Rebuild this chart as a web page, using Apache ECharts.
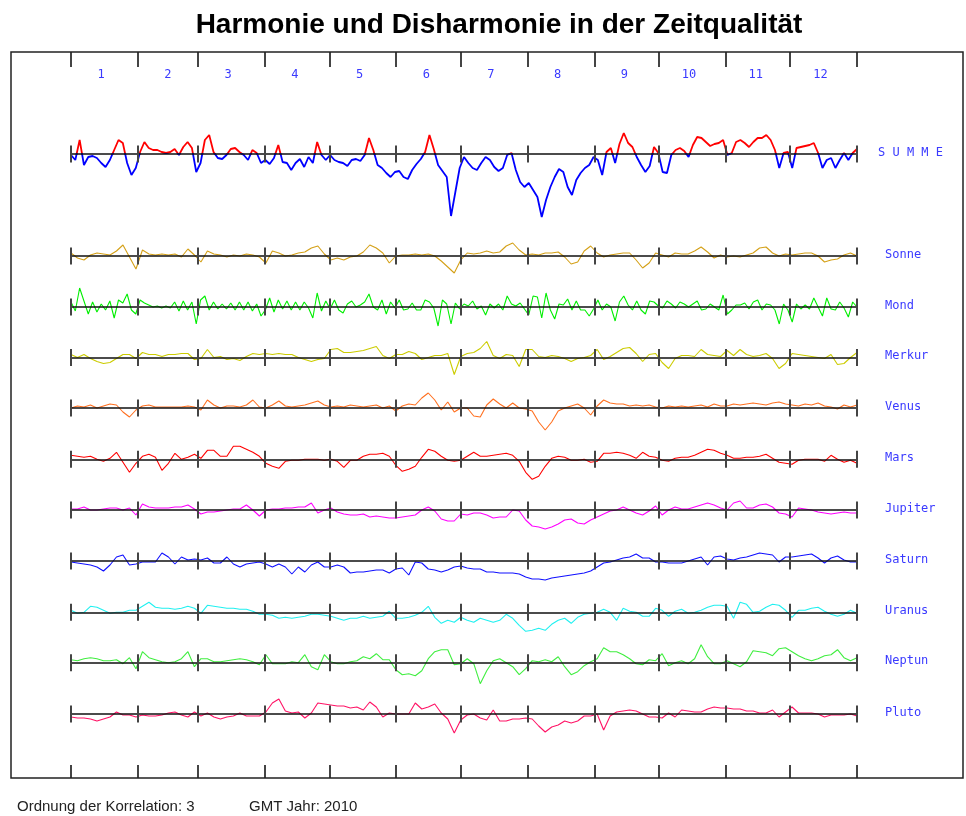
<!DOCTYPE html>
<html><head><meta charset="utf-8">
<script src="https://cdn.jsdelivr.net/npm/echarts@6/dist/echarts.min.js"></script>
<style>html,body{margin:0;padding:0;background:#fff}#c{width:966px;height:816px}</style>
</head><body><div id="c"></div>
<script>
// ---------------- DATA (pixel-like deviation units, + = harmony, - = disharmony) ----------------
const monthLabels = ['1','2','3','4','5','6','7','8','9','10','11','12'];
const monthLengths = [31,28,31,30,31,30,31,31,30,31,30,31];
const rowNames = ['S U M M E','Sonne','Mond','Merkur','Venus','Mars','Jupiter','Saturn','Uranus','Neptun','Pluto'];
const footerLeft = 'Ordnung der Korrelation: 3';
const footerRight = 'GMT Jahr: 2010';
const chartTitle = 'Harmonie und Disharmonie in der Zeitqualität';

// samples spread evenly over the year
const summe = [
 -1,-6,14,-11,-3,-2,-4,-9,-13,-6,4,14,11,-9,-21,-14,2,12,6,4,4,2,1,2,5,-1,7,12,6,-18,-9,14,19,2,-4,-5,-1,5,6,2,-1,-6,4,1,-9,-6,-10,-4,9,-8,-9,-16,-9,-5,-13,-3,-9,12,-1,-6,-1,
 -6,-8,-9,-12,-6,-5,-7,-1,16,4,-11,-14,-19,-23,-18,-17,-23,-25,-16,-10,-5,2,19,5,-11,-17,-23,-62,-38,-14,-3,-9,-14,-16,-9,-3,-6,-13,-17,-14,-1,1,-16,-28,-33,-29,-36,-43,-63,-46,-33,-23,-15,-18,-33,-41,-26,-19,-14,-11,-3,-6,-21,2,6,-9,10,21,11,7,-3,
 -11,-18,-12,7,1,-18,-19,-1,4,6,3,-3,9,17,16,12,8,10,11,14,-1,1,12,14,11,7,12,16,16,19,14,4,-14,1,2,-14,6,7,8,9,11,1,-14,-6,-4,-14,-6,1,-6,1,5
];
const sonne = [
 3,-2,-4,1,3,2,1,5,11,-1,-13,6,2,1,2,1,2,-1,7,1,-6,5,2,1,-1,1,0,2,1,-1,-7,5,3,0,1,3,4,8,10,2,-4,
 -2,-4,-1,0,4,11,8,3,-7,0,1,1,2,1,2,0,-5,-11,-17,-4,3,2,3,5,3,4,10,13,6,1,2,1,3,3,4,-1,-8,-6,5,10,3,-1,1,2,3,3,-4,-12,
 -7,3,1,-1,3,2,2,5,9,4,-2,1,-1,0,-1,1,3,8,9,3,0,2,1,2,3,3,0,-6,-4,-3,1,3,0
];
const mond = [
 5,-4,19,6,-7,5,-5,3,-3,6,-11,7,4,13,-3,-7,7,4,2,0,1,-1,1,-1,5,-4,6,-3,5,-17,7,11,-3,5,-2,3,-2,4,-3,5,-3,5,-4,3,-9,-3,9,-5,7,-2,6,-3,5,-3,5,-1,-11,14,-4,6,-2,
 7,-3,-6,3,6,0,2,5,13,0,-3,7,-7,5,-1,7,-3,-2,4,-3,-3,7,5,-1,-19,7,3,-17,4,-2,3,1,6,-2,1,-8,3,-1,3,-3,11,3,1,4,-2,-8,11,10,-11,14,-3,-12,3,2,8,-3,6,-3,-3,-9,-2,7,-3,3,0,-14,5,11,2,-3,6,-3,-7,6,
 5,1,-1,6,3,-1,5,3,0,3,6,-3,-2,3,0,-3,12,-7,-3,2,2,4,-2,5,7,-3,3,2,-3,-17,3,-3,-15,3,-2,2,-2,9,0,-9,9,-2,-3,5,-1,-10,5,0
];
const merkur = [
 3,0,3,-1,-4,-6,-5,-1,3,3,-1,5,3,3,1,3,3,4,4,-2,-1,8,0,1,-2,-1,-3,1,4,3,4,3,4,3,3,0,-2,-4,-2,-1,8,
 9,5,5,6,7,9,11,2,-1,3,3,6,4,-2,0,2,2,4,-17,1,4,5,9,16,2,-1,3,2,-9,8,8,1,0,2,1,-1,-4,-1,0,2,8,-2,1,5,9,10,4,-4,
 3,4,-5,-11,-1,2,2,1,8,3,2,1,7,2,8,3,1,2,4,-1,-11,-6,4,3,2,1,0,-1,3,-7,-6,0,5
];
const venus = [
 0,2,1,3,0,2,4,3,-4,-9,-2,2,3,1,1,1,1,1,2,1,-2,8,3,0,2,2,1,3,8,1,0,3,7,2,1,2,3,5,7,3,1,
 2,1,3,2,1,2,3,0,2,-3,2,4,3,10,15,8,-2,6,-4,0,0,-8,-9,3,9,4,0,5,0,-1,-3,-14,-22,-14,-3,0,2,4,0,-7,2,8,5,4,4,2,3,2,
 3,1,0,2,1,2,1,2,3,1,4,2,2,4,3,4,5,4,3,5,6,4,3,2,4,3,5,2,1,-1,3,1,3
];
const mars = [
 4,3,2,3,0,-2,1,7,-3,-13,-4,3,5,2,-11,-4,6,0,2,5,1,9,9,3,3,13,13,10,7,3,-4,-7,-9,-2,-1,-1,0,0,0,-1,0,
 -2,-8,-1,-1,3,5,5,6,3,-6,-12,-10,-7,2,10,8,3,-1,-2,-1,3,7,3,3,4,5,6,4,-2,-13,-20,-17,-7,1,3,2,-1,-1,0,-3,-2,6,6,7,6,4,1,7,
 3,2,-1,-2,1,2,2,4,7,10,9,6,4,1,1,2,2,3,5,1,-3,-4,-5,-1,0,0,0,-2,4,0,-3,-1,-4
];
const jupiter = [
 1,1,3,0,0,1,2,2,0,2,-5,6,3,2,2,2,3,3,5,1,-4,-2,-2,-1,0,1,1,5,0,-6,0,1,1,2,2,3,3,7,-3,0,2,
 -2,-4,-5,-5,-4,-7,-6,-7,-8,-8,-7,-6,-5,0,3,-1,-9,-11,-11,-4,-5,-3,-3,-5,-8,-7,-7,0,-1,-10,-16,-17,-19,-17,-14,-10,-9,-13,-14,-10,-7,-4,-1,0,3,0,-3,-5,
 -1,4,-5,0,3,1,1,3,5,7,5,2,0,7,9,2,2,5,6,3,-3,-4,-7,2,1,0,-2,-3,-4,-3,-2,-3,-3
];
const saturn = [
 -1,-2,-3,-4,-6,-10,-4,4,6,-4,-3,-1,-1,-1,8,4,-3,4,1,2,1,3,-2,-2,4,-3,-6,-3,-2,-1,-3,-6,-3,-6,-13,-6,-11,-4,-1,-6,-6,
 -4,-6,-12,-11,-11,-10,-9,-9,-12,-8,-7,-14,-1,-2,-8,-9,-11,-9,-6,-5,-7,-8,-8,-11,-11,-12,-12,-12,-13,-16,-18,-18,-19,-17,-16,-15,-14,-13,-12,-10,-6,-2,-1,1,3,4,7,3,
 3,-1,-1,-2,-2,-2,0,2,4,-4,4,5,2,1,3,4,6,8,7,6,-1,4,4,5,6,7,3,-2,3,5,1,-1,-1
];
const uranus = [
 2,-1,0,6,5,2,-1,0,0,2,2,6,10,5,4,4,3,4,6,4,-1,7,6,5,4,4,3,3,1,-2,-2,-3,-6,-5,-6,-5,-4,-2,-2,-3,-4,
 -6,-8,-6,-6,-4,-6,-5,-4,1,-6,-6,-5,-3,0,6,-5,-11,-8,-10,-5,-8,-10,-6,-8,-10,-8,-2,-6,-13,-19,-18,-16,-18,-12,-8,-6,-11,-5,-2,-1,0,3,0,-8,4,1,0,-4,
 -4,4,2,-4,1,3,-1,0,2,5,7,7,6,-6,10,8,0,1,5,8,7,2,-5,2,2,4,5,1,-2,-4,-2,2,-1
];
const neptun = [
 3,2,4,5,4,2,2,3,-1,5,-6,11,5,3,1,0,1,4,11,-4,4,4,1,1,2,3,4,3,1,-2,8,-1,-1,-1,1,0,8,-4,-7,8,1,
 -1,-1,1,2,6,4,9,3,3,-7,-12,-11,-13,-8,4,11,13,13,-2,-1,4,-1,-21,-8,2,4,0,-4,-12,-6,2,1,3,1,6,-4,-12,-9,-3,1,4,15,11,11,8,4,-1,-2,
 3,2,9,-3,0,2,-1,4,18,6,-1,-1,2,-1,-4,1,12,11,10,7,14,15,11,7,4,2,4,7,8,13,5,2,5
];
const pluto = [
 -3,-4,-4,-5,-7,-5,-3,2,-1,-1,-3,-1,-2,-2,-1,1,2,-1,-3,2,-2,1,-3,-5,-3,-2,1,-2,-2,-2,2,11,15,3,1,2,-4,1,11,10,9,
 8,8,6,7,4,12,7,-3,1,0,0,0,11,5,7,10,1,-5,-19,-6,-1,0,-4,-6,4,-7,-7,-5,-5,-4,-5,-12,-18,-13,-11,-7,-9,-7,-2,-2,0,-16,-2,2,3,4,3,0,
 -3,-3,-4,1,-3,4,3,2,2,5,7,6,6,5,5,3,3,1,1,4,-3,2,7,1,1,1,0,-3,-1,-1,-1,0,-2
];

// ---------------- LAYOUT / STYLE ----------------
const W = 966, X0 = 71, X1 = 857;
const rowData   = [summe, sonne, mond, merkur, venus, mars, jupiter, saturn, uranus, neptun, pluto];
const rowColors = ['#ff0000', '#d4a017', '#00ee00', '#cccc00', '#ff7020', '#ff0000', '#ff00ff', '#1010ff', '#20f0f0', '#40ee40', '#ff1466'];
const summeNegColor = '#0000ff';
const rowBase   = [154, 256, 307, 357.5, 408, 459.3, 510, 561, 612.3, 662.7, 714];
const rowUp     = [35, 25, 25, 25, 25, 25, 25, 25, 25, 25, 25];
const rowDown   = [70, 25, 25, 25, 25, 25, 25, 25, 25, 25, 25];
const labelColor = '#3a3aff';
const monoFont = '"DejaVu Sans Mono", "Liberation Mono", monospace';

const DAYS = monthLengths.reduce((a, b) => a + b, 0);
const monthStarts = [0];
monthLengths.forEach(m => monthStarts.push(monthStarts[monthStarts.length - 1] + m));
const boundarySet = new Set(monthStarts);
const dayCats = Array.from({length: DAYS + 1}, (_, i) => String(i));
const monthLabelAt = {};
monthLabels.forEach((t, k) => { monthLabelAt[String(monthStarts[k] + 14)] = t; });

const grids = [], xAxes = [], yAxes = [], series = [], graphics = [];
const gl = X0, gr = W - X1;

function addTickGrid(top, height, withLabels) {
  const gi = grids.length;
  grids.push({left: gl, right: gr, top: top, height: height});
  xAxes.push({
    gridIndex: gi, type: 'category', data: dayCats, boundaryGap: false, z: 6,
    axisLine: {show: false}, axisTick: {show: false},
    axisLabel: withLabels ? {
      show: true, interval: (i, v) => monthLabelAt[v] !== undefined,
      formatter: v => monthLabelAt[v] || '', margin: 2,
      color: labelColor, fontFamily: monoFont, fontSize: 12
    } : {show: false},
    splitLine: {show: true, interval: (i, v) => boundarySet.has(Number(v)),
      lineStyle: {color: '#444', width: 2}}
  });
  yAxes.push({gridIndex: gi, type: 'value', min: 0, max: 1, show: false});
}

// a value grid [lo, hi] placed so that value 0 sits on the row baseline; lines are clipped to it
function addValueGrid(r, lo, hi, showBase) {
  const gi = grids.length;
  grids.push({left: gl, right: gr, top: rowBase[r] - hi, height: hi - lo});
  xAxes.push({
    gridIndex: gi, type: 'value', min: 0, max: DAYS, z: 5,
    axisLine: {show: showBase, onZero: true, lineStyle: {color: '#111', width: 1.5}},
    axisTick: {show: false}, axisLabel: {show: false}, splitLine: {show: false}
  });
  yAxes.push({gridIndex: gi, type: 'value', min: lo, max: hi, show: false});
  return gi;
}

function addLine(gi, arr, color, width) {
  const n = arr.length;
  series.push({
    type: 'line', xAxisIndex: gi, yAxisIndex: gi, showSymbol: false, silent: true,
    clip: true, z: 3, lineStyle: {width: width, color: color}, itemStyle: {color: color},
    data: arr.map((v, i) => [i * DAYS / (n - 1), v])
  });
}

rowData.forEach((arr, r) => {
  if (r === 0) {
    // SUMME: red part above the baseline, blue part below it
    const gUp = addValueGrid(r, 0, rowUp[r], true);
    addLine(gUp, arr, rowColors[r], 1.8);
    const gDn = addValueGrid(r, -rowDown[r], 0, false);
    addLine(gDn, arr, summeNegColor, 1.8);
  } else {
    const gi = addValueGrid(r, -rowDown[r], rowUp[r], true);
    addLine(gi, arr, rowColors[r], 1.1);
  }
  addTickGrid(rowBase[r] - 8.5, 17, false);
  graphics.push({
    type: 'text', x: r === 0 ? 878 : 885, y: rowBase[r] - 1.5,
    style: {text: rowNames[r], fill: labelColor, font: '12px ' + monoFont, verticalAlign: 'middle'}
  });
});
addTickGrid(52, 15, true);
addTickGrid(765, 13, false);

graphics.push({type: 'rect', shape: {x: 11, y: 52, width: 952, height: 726},
  style: {fill: 'none', stroke: '#222', lineWidth: 1.5}, z: 10});
graphics.push({type: 'text', x: 17, y: 807,
  style: {text: footerLeft, fill: '#222', font: '15px "Liberation Sans", Arial, sans-serif', verticalAlign: 'middle'}});
graphics.push({type: 'text', x: 249, y: 807,
  style: {text: footerRight, fill: '#222', font: '15px "Liberation Sans", Arial, sans-serif', verticalAlign: 'middle'}});

const chart = echarts.init(document.getElementById('c'), null, {renderer: 'canvas'});
chart.setOption({
  animation: false,
  backgroundColor: '#fff',
  title: {text: chartTitle, left: 494, top: 6, textAlign: 'center',
    textStyle: {fontFamily: '"Liberation Sans", Arial, sans-serif', fontSize: 28, fontWeight: 'bold', color: '#000'}},
  grid: grids, xAxis: xAxes, yAxis: yAxes, series: series, graphic: graphics
});
</script></body></html>
